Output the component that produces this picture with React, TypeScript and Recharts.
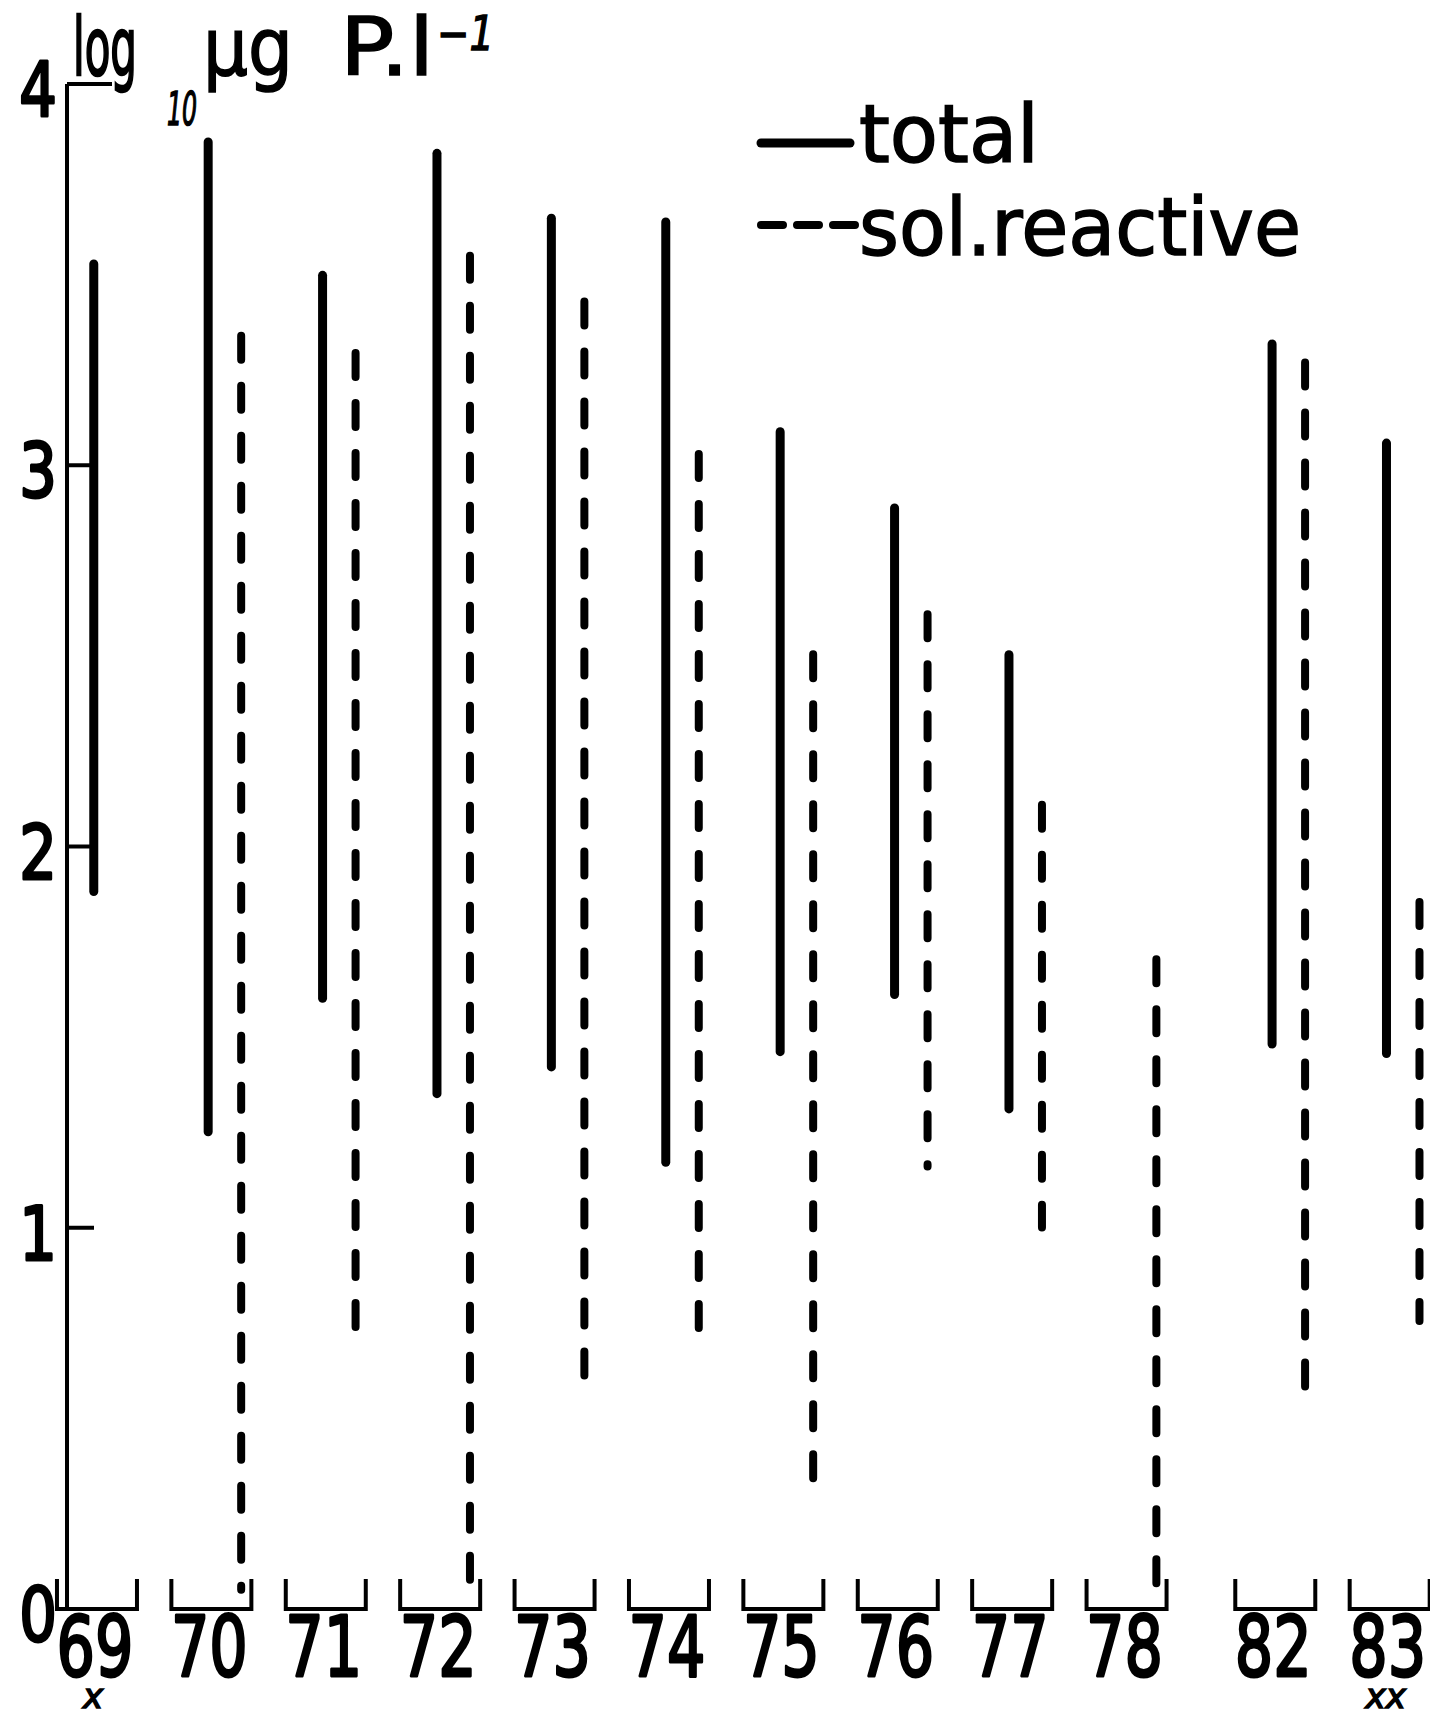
import React from 'react';
import { BarChart, Bar, XAxis, YAxis, Legend, Label } from 'recharts';

// ---- data (log10 µg P.l-1 ranges per year) ----
const years = ['69', '70', '71', '72', '73', '74', '75', '76', '77', '78', '82', '83'];
const yearNotes = ['x', '', '', '', '', '', '', '', '', '', '', 'xx'];
const totalLow = [1.87, 1.24, 1.59, 1.34, 1.41, 1.16, 1.45, 1.6, 1.3, null, 1.47, 1.445];
const totalHigh = [3.54, 3.86, 3.51, 3.83, 3.66, 3.65, 3.1, 2.9, 2.515, null, 3.33, 3.07];
const reactiveLow = [null, 0.04, 0.69, 0.03, 0.57, 0.69, 0.29, 1.15, 0.99, 0.02, 0.57, 0.745];
const reactiveHigh = [null, 3.35, 3.305, 3.56, 3.44, 3.04, 2.515, 2.62, 2.12, 1.715, 3.28, 1.865];
const yTicks = [0, 1, 2, 3, 4];
const seriesKeys = ['total', 'reactive'];
const seriesNames = ['total', 'sol.reactive'];

// axis break between 78 and 82
const BREAK_AFTER = '78';
const BREAK_EXTRA = 0.3;
const breakIndex = years.indexOf(BREAK_AFTER);
const positions = years.map((_, i) => i + (i > breakIndex ? BREAK_EXTRA : 0));

const data = years.map((y, i) => ({
  year: y,
  pos: positions[i],
  total: totalLow[i] == null ? null : [totalLow[i], totalHigh[i]],
  reactive: reactiveLow[i] == null ? null : [reactiveLow[i], reactiveHigh[i]],
}));

const FONT = '"DejaVu Sans", "Noto Sans", sans-serif';
const SHIFT = 13.5;

const makeRangeLine = (key: string, dashed: boolean) => (props: any) => {
  const { x, y, width, height, payload } = props;
  if (!payload || payload[key] == null || !isFinite(y) || !isFinite(height)) return <g />;
  const top = Math.min(y, y + height);
  const bottom = Math.max(y, y + height);
  const cx = x + width / 2 + SHIFT;
  const sw = dashed ? 8 : 9;
  return (
    <line
      x1={cx}
      x2={cx}
      y1={top + sw / 2}
      y2={bottom - sw / 2}
      stroke="#000"
      strokeWidth={sw}
      strokeLinecap="round"
      strokeDasharray={dashed ? '24 26' : undefined}
    />
  );
};

const YearTick = (props: any) => {
  const { x, y, payload } = props;
  const i = positions.indexOf(payload.value);
  if (i < 0) return <g />;
  const half = 40;
  return (
    <g>
      <path
        d={`M${x - half},${y - 30} V${y} H${x + half} V${y - 30}`}
        fill="none"
        stroke="#000"
        strokeWidth={4}
      />
      <text
        transform={`translate(${x - 2},${y + 67}) scale(0.72,1)`}
        textAnchor="middle"
        fontFamily={FONT}
        fontSize={84}
        fill="#000"
        stroke="#000"
        strokeWidth={3}
        strokeLinejoin="round"
      >
        {years[i]}
      </text>
      {yearNotes[i] ? (
        <text
          x={x - 4}
          y={y + 99}
          textAnchor="middle"
          fontFamily={FONT}
          fontStyle="italic"
          fontSize={34}
          fill="#000"
          stroke="#000"
          strokeWidth={1.5}
        >
          {yearNotes[i]}
        </text>
      ) : null}
    </g>
  );
};

const ValueTick = (props: any) => {
  const { x, y, payload } = props;
  const v = payload.value;
  const len = v === yTicks[yTicks.length - 1] ? 45 : 27;
  return (
    <g>
      {v !== 0 ? <line x1={x} x2={x + len} y1={y} y2={y} stroke="#000" strokeWidth={4} /> : null}
      <text
        transform={`translate(${x - 10},${y + 32}) scale(0.8,1)`}
        textAnchor="end"
        fontFamily={FONT}
        fontSize={74}
        fill="#000"
        stroke="#000"
        strokeWidth={3}
        strokeLinejoin="round"
      >
        {v}
      </text>
    </g>
  );
};

const TitleContent = (props: any) => {
  const vb = props.viewBox || { x: 0, y: 84, width: 67 };
  const ax = vb.x + vb.width;
  const ty = vb.y;
  return (
    <g fontFamily={FONT} fill="#000" stroke="#000" strokeWidth={1.5}>
      <text x={ax + 6} y={ty - 9} fontSize={80} textLength={64} lengthAdjust="spacingAndGlyphs" strokeWidth={2.5}>
        log
      </text>
      <text x={ax + 100} y={ty + 41} fontSize={46} fontStyle="italic" textLength={30} lengthAdjust="spacingAndGlyphs">
        10
      </text>
      <text x={ax + 136} y={ty - 9} fontSize={80} textLength={90} lengthAdjust="spacingAndGlyphs">
        µg
      </text>
      <text x={ax + 273} y={ty - 9} fontSize={80} textLength={94} lengthAdjust="spacingAndGlyphs">
        P.l
      </text>
      <text x={ax + 370} y={ty - 34} fontSize={48} fontStyle="italic" textLength={57} lengthAdjust="spacingAndGlyphs">
        −1
      </text>
    </g>
  );
};

const legendTextLength: Record<string, number> = { total: 180, reactive: 442 };

const LegendContent = (props: any) => {
  const payload = [...(props.payload || [])].sort(
    (a: any, b: any) => seriesKeys.indexOf(a.dataKey) - seriesKeys.indexOf(b.dataKey)
  );
  return (
    <svg width={600} height={200} style={{ display: 'block', overflow: 'visible' }}>
      {payload.map((entry: any, i: number) => {
        const dashed = entry.dataKey === 'reactive';
        const ly = dashed ? 137 : 55;
        const ty = dashed ? 167 : 74;
        return (
          <g key={i}>
            <line
              x1={13}
              x2={dashed ? 108 : 102}
              y1={ly}
              y2={ly}
              stroke="#000"
              strokeWidth={dashed ? 8 : 9}
              strokeLinecap="round"
              strokeDasharray={dashed ? '22 14' : undefined}
            />
            <text
              x={111}
              y={ty}
              fontFamily={FONT}
              fontSize={80}
              fill="#000"
              stroke="#000"
              strokeWidth={1.5}
              textLength={legendTextLength[entry.dataKey] || 180}
              lengthAdjust="spacingAndGlyphs"
            >
              {entry.value}
            </text>
          </g>
        );
      })}
    </svg>
  );
};

export default function App() {
  return (
    <div style={{ width: 1438, height: 1718, margin: '-8px 0 -8px -8px', background: '#fff' }}>
      <BarChart
        width={1438}
        height={1718}
        data={data}
        margin={{ top: 84, right: 14, bottom: 0, left: 0 }}
        barGap={24}
      >
        <XAxis
          dataKey="pos"
          type="number"
          domain={[-0.262, 11.6]}
          ticks={positions}
          interval={0}
          axisLine={false}
          tickLine={false}
          tickSize={0}
          tickMargin={0}
          height={109}
          tick={<YearTick />}
        />
        <YAxis
          type="number"
          domain={[0, 4]}
          ticks={yTicks}
          interval={0}
          width={67}
          axisLine={{ stroke: '#000', strokeWidth: 4 }}
          tickLine={false}
          tickSize={0}
          tickMargin={0}
          tick={<ValueTick />}
          label={<Label content={TitleContent} />}
        />
        <Legend
          layout="vertical"
          align="center"
          verticalAlign="middle"
          wrapperStyle={{ left: 748, top: 88, width: 600, height: 200 }}
          content={LegendContent}
        />
        <Bar
          dataKey="total"
          name={seriesNames[0]}
          barSize={9}
          fill="#000"
          isAnimationActive={false}
          shape={makeRangeLine('total', false)}
        />
        <Bar
          dataKey="reactive"
          name={seriesNames[1]}
          barSize={9}
          fill="#000"
          isAnimationActive={false}
          shape={makeRangeLine('reactive', true)}
        />
      </BarChart>
    </div>
  );
}
